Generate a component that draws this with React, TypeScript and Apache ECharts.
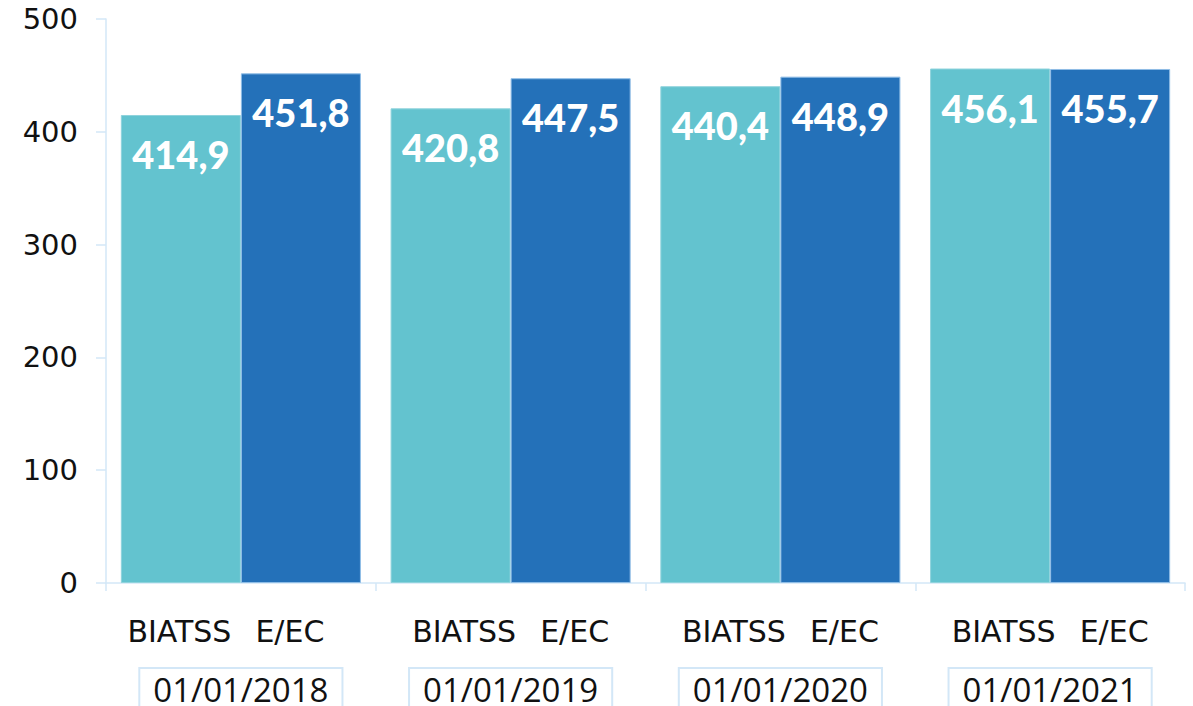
import React, { useEffect, useRef } from "react";
import * as echarts from "echarts";

const categories = ["01/01/2018", "01/01/2019", "01/01/2020", "01/01/2021"];
const biatss = [414.9, 420.8, 440.4, 456.1];
const eec = [451.8, 447.5, 448.9, 455.7];
const seriesNames = ["BIATSS", "E/EC"];

const AXIS_COLOR = "#d3e7f7";

export default function App() {
  const ref = useRef<HTMLDivElement>(null);
  useEffect(() => {
    if (!ref.current) return;
    const chart = echarts.init(ref.current, undefined, { renderer: "svg" });
    const labelFmt = (p: any) => Number(p.value).toFixed(1).replace(".", ",");
    const valueLabel = {
      show: true,
      position: "insideTop",
      distance: 20,
      color: "#ffffff",
      fontFamily: "Lato",
      fontWeight: 900,
      fontSize: 38,
      formatter: labelFmt,
    };
    chart.setOption({
      animation: false,
      grid: { left: 106, right: 8, top: 19, bottom: 123, containLabel: false, outerBoundsMode: "none" },
      xAxis: [
        {
          type: "category",
          data: categories,
          axisLine: { show: true, lineStyle: { color: AXIS_COLOR, width: 1.5 } },
          axisTick: { show: true, interval: 0, length: 8, lineStyle: { color: AXIS_COLOR, width: 1.5 } },
          axisLabel: {
            interval: 0,
            margin: 28,
            fontFamily: "DejaVu Sans",
            fontSize: 30,
            color: "#111111",
            lineHeight: 40,
            formatter: (_v: string, i: number) =>
              "{t|" + seriesNames[0] + "}{g|}{t|" + seriesNames[1] + "}" + (i === 0 ? "{p|}" : ""),
            rich: {
              t: { fontFamily: "DejaVu Sans", fontSize: 30, color: "#111111", lineHeight: 40 },
              g: { width: 24 },
              p: { width: 30 },
            },
          },
        },
        {
          type: "category",
          data: categories,
          position: "bottom",
          axisLine: { show: false },
          axisTick: { show: false },
          axisLabel: {
            interval: 0,
            margin: 85,
            fontFamily: "Open Sans",
            fontSize: 33,
            color: "#111111",
            lineHeight: 28,
            padding: [7, 14, 8, 14],
            borderColor: AXIS_COLOR,
            borderWidth: 2,
          },
        },
      ],
      yAxis: {
        type: "value",
        min: 0,
        max: 500,
        interval: 100,
        axisLine: { show: true, lineStyle: { color: AXIS_COLOR, width: 1.5 } },
        axisTick: { show: true, length: 10, lineStyle: { color: AXIS_COLOR, width: 1.5 } },
        splitLine: { show: false },
        axisLabel: {
          margin: 28,
          fontFamily: "DejaVu Sans",
          fontSize: 29,
          color: "#111111",
        },
      },
      series: [
        {
          name: seriesNames[0],
          type: "bar",
          xAxisIndex: 0,
          data: biatss,
          barGap: "0%",
          barCategoryGap: "11%",
          itemStyle: { color: "#63c3cf", borderColor: "#8fd3dc", borderWidth: 1 },
          label: valueLabel,
        },
        {
          name: seriesNames[1],
          type: "bar",
          xAxisIndex: 0,
          data: eec,
          barGap: "0%",
          barCategoryGap: "11%",
          itemStyle: { color: "#2471b9", borderColor: "#8fbde6", borderWidth: 1 },
          label: valueLabel,
        },
      ],
    });
    return () => chart.dispose();
  }, []);
  return (
    <div
      ref={ref}
      style={{ position: "fixed", left: 0, top: 0, width: 1193, height: 706, background: "#ffffff" }}
    />
  );
}
